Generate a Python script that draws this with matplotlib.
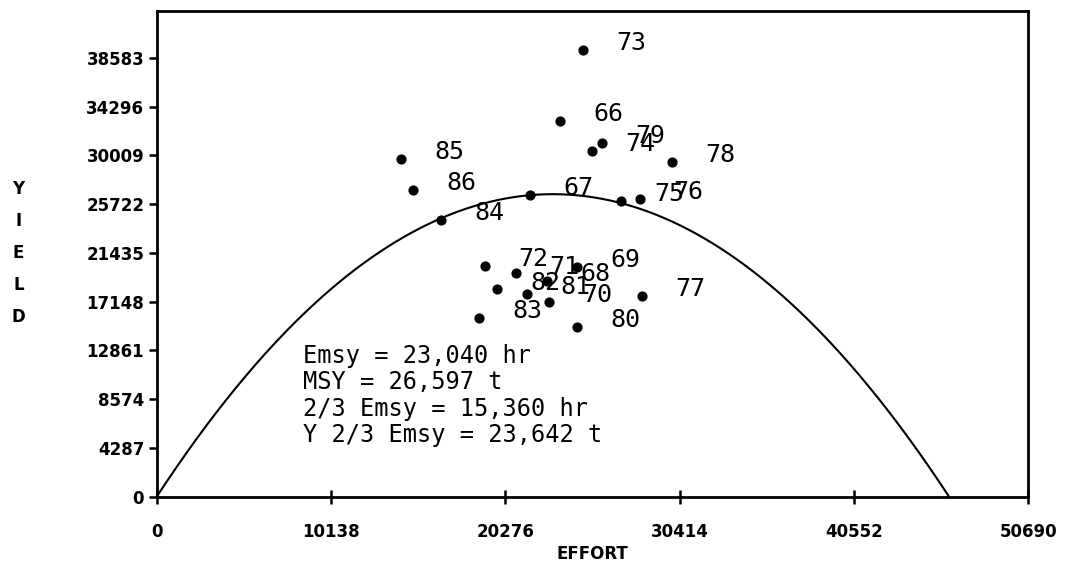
import numpy as np
import matplotlib
matplotlib.use("Agg")
import matplotlib.pyplot as plt

# catch by year: fishing effort (hr) and yield (t)
years = ["66", "67", "68", "69", "70", "71", "72", "73", "74", "75", "76",
         "77", "78", "79", "80", "81", "82", "83", "84", "85", "86"]
effort = [23456, 21711, 22700, 24445, 22834, 20880, 19094, 24811, 25317, 26986, 28109,
          28208, 29987, 25881, 24427, 21519, 19809, 18762, 16517, 14191, 14924]
yield_t = [33032, 26504, 18949, 20179, 17131, 19626, 20293, 39241, 30370, 25977, 26215,
           17632, 29465, 31099, 14935, 17807, 18220, 15673, 24308, 29729, 27005]

# Schaefer surplus-production fit
emsy = 23040
msy = 26597
emsy_23 = 15360
y_emsy_23 = 23642

x_ticks = [0, 10138, 20276, 30414, 40552, 50690]
y_ticks = [0, 4287, 8574, 12861, 17148, 21435, 25722, 30009, 34296, 38583]

fig = plt.figure(figsize=(10.83, 5.74), dpi=100)
ax = fig.add_axes([0.1447, 0.1347, 0.8048, 0.8461])

e = np.linspace(0, 2 * emsy, 400)
y = msy * (2 * e / emsy - (e / emsy) ** 2)
ax.plot(e, y, color="black", lw=1.5)

ax.scatter(effort, yield_t, s=40, color="black", zorder=3)
mono = "DejaVu Sans Mono"
for yr, ex, yy in zip(years, effort, yield_t):
    ax.annotate(yr, (ex, yy), xytext=(24, 5), textcoords="offset points",
                ha="left", va="center", fontsize=18, family=mono)

summary = ("Emsy = {:,} hr\nMSY = {:,} t\n2/3 Emsy = {:,} hr\nY 2/3 Emsy = {:,} t"
           .format(emsy, msy, emsy_23, y_emsy_23))
ax.text(8500, 8900, summary, ha="left", va="center", fontsize=17,
        family=mono, linespacing=1.12)

ax.set_xlim(0, 50690)
ax.set_ylim(0, 42700)
ax.set_xticks(x_ticks)
ax.set_xticklabels([str(v) for v in x_ticks])
ax.set_yticks(y_ticks)
ax.set_yticklabels([str(v) for v in y_ticks])
ax.tick_params(axis="x", direction="inout", length=10, width=1.8, pad=14)
ax.tick_params(axis="y", direction="out", length=6, width=1.8, pad=3)
for lab in ax.get_xticklabels() + ax.get_yticklabels():
    lab.set_fontsize(12)
    lab.set_fontweight("bold")
for sp in ax.spines.values():
    sp.set_linewidth(2)

ax.set_xlabel("EFFORT", fontsize=12, fontweight="bold", labelpad=3)
fig.text(0.017, 0.56, "Y\nI\nE\nL\nD", ha="center", va="center",
         fontsize=12, fontweight="bold", linespacing=2.0)

fig.savefig("out.png", dpi=100)
